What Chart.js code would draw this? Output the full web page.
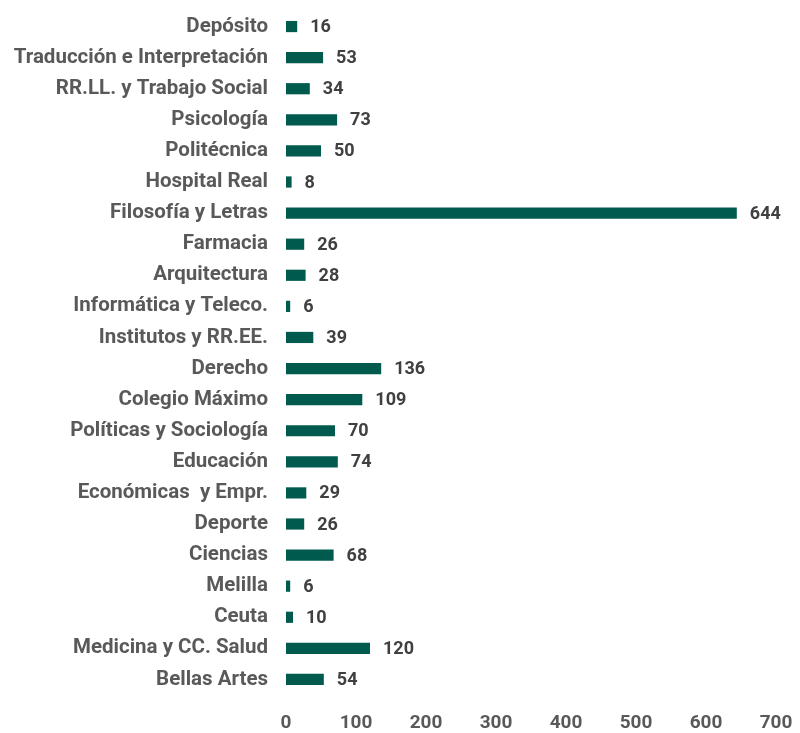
<!DOCTYPE html>
<html>
<head>
<meta charset="utf-8">
<script src="https://cdn.jsdelivr.net/npm/chart.js@4/dist/chart.umd.min.js"></script>
<style>
  html, body { margin: 0; padding: 0; background: #fff; }
  #wrap { width: 800px; height: 733px; }
</style>
</head>
<body>
<div id="wrap"><canvas id="chart"></canvas></div>
<script>
// ── Data ──
const centros = [
  'Depósito', 'Traducción e Interpretación', 'RR.LL. y Trabajo Social', 'Psicología',
  'Politécnica', 'Hospital Real', 'Filosofía y Letras', 'Farmacia', 'Arquitectura',
  'Informática y Teleco.', 'Institutos y RR.EE.', 'Derecho', 'Colegio Máximo',
  'Políticas y Sociología', 'Educación', 'Económicas  y Empr.', 'Deporte', 'Ciencias',
  'Melilla', 'Ceuta', 'Medicina y CC. Salud', 'Bellas Artes'
]
const valores = [16, 53, 34, 73, 50, 8, 644, 26, 28, 6, 39, 136, 109, 70, 74, 29, 26, 68, 6, 10, 120, 54]
const xMax = 700
const xStep = 100

const barColor = '#005a4e'
const labelColor = '#595959'
const valueColor = '#404040'

// value labels to the right of each bar
const valueLabels = {
  id: 'valueLabels',
  afterDatasetsDraw (chart) {
    const { ctx } = chart
    const meta = chart.getDatasetMeta(0)
    ctx.save()
    ctx.font = 'bold 18px Roboto'
    ctx.fillStyle = valueColor
    ctx.textAlign = 'left'
    ctx.textBaseline = 'middle'
    meta.data.forEach((bar, i) => {
      ctx.fillText(String(valores[i]), bar.x + 13, bar.y + 1)
    })
    ctx.restore()
  }
}

new Chart(document.getElementById('chart'), {
  type: 'bar',
  data: {
    labels: centros,
    datasets: [{
      data: valores,
      backgroundColor: barColor,
      borderWidth: 0,
      barPercentage: 0.36,
      categoryPercentage: 1
    }]
  },
  options: {
    indexAxis: 'y',
    responsive: true, maintainAspectRatio: false,
    animation: false,
    layout: { padding: { top: 11, right: 24, left: 0, bottom: 0 } },
    scales: {
      x: {
        min: 0, max: xMax,
        grid: { display: false },
        border: { display: false },
        ticks: { stepSize: xStep, padding: 9, color: labelColor, font: { family: 'Roboto', weight: 'bold', size: 19 } },
        afterFit: s => { s.height = 38; s.paddingLeft = 0; s.paddingRight = 0 }
      },
      y: {
        grid: { display: false },
        border: { display: false },
        ticks: { padding: 10, color: labelColor, font: { family: 'Roboto', weight: 'bold', size: 20.5 } },
        afterFit: s => { s.width = 286; s.paddingTop = 0; s.paddingBottom = 0 }
      }
    },
    plugins: {
      legend: { display: false },
      tooltip: { enabled: false }
    }
  },
  plugins: [valueLabels]
})
</script>
</body>
</html>
